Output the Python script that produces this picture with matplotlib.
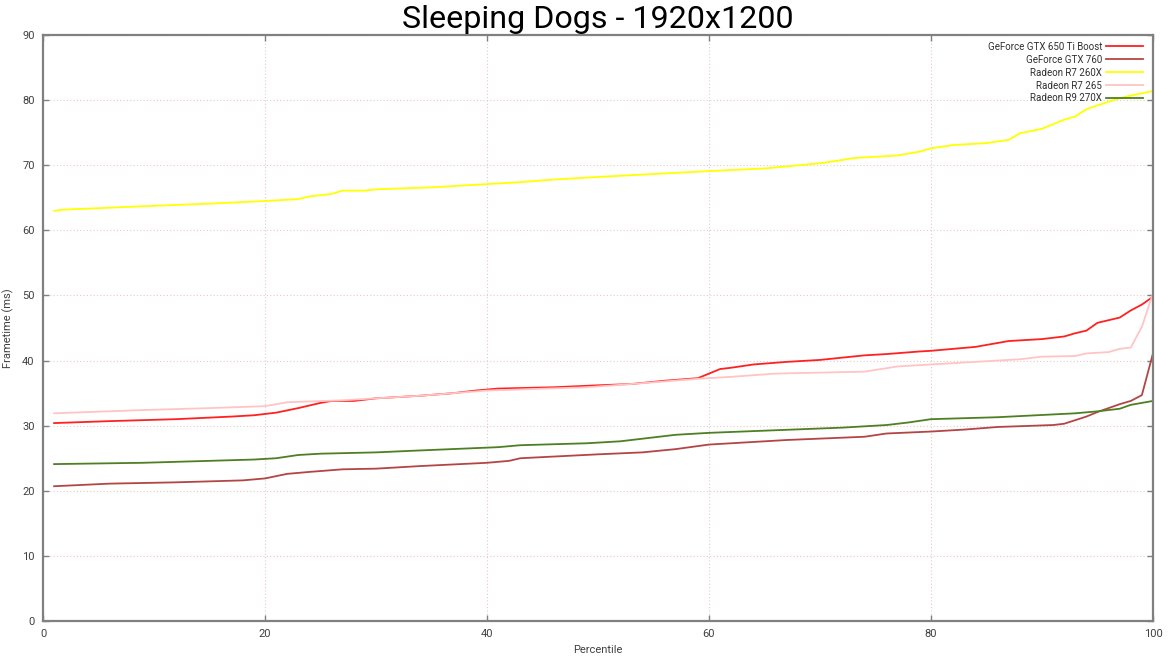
import matplotlib
matplotlib.use("Agg")
import matplotlib.pyplot as plt

# percentile / frametime samples
gtx650_x = [1, 6, 12, 17, 19, 21, 23, 25, 26, 28, 30, 34, 37, 39, 41, 46, 50, 53, 56, 59, 60, 61, 62, 64,
            67, 70, 74, 76, 79, 80, 82, 84, 86, 87, 90, 92, 93, 94, 95, 97, 98, 99, 100]
gtx650_y = [30.4, 30.7, 31.0, 31.4, 31.6, 32.0, 32.7, 33.5, 33.8, 33.8, 34.2, 34.6, 35.0, 35.4, 35.7, 35.9,
            36.2, 36.4, 36.9, 37.3, 38.0, 38.7, 38.9, 39.4, 39.8, 40.1, 40.8, 41.0, 41.4, 41.5, 41.8, 42.1,
            42.7, 43.0, 43.3, 43.7, 44.2, 44.6, 45.8, 46.6, 47.7, 48.6, 49.8]

gtx760_x = [1, 6, 12, 18, 20, 22, 24, 27, 30, 34, 40, 42, 43, 50, 54, 57, 60, 62, 67, 74, 76, 80, 83, 86,
            91, 92, 94, 95, 97, 98, 99, 100]
gtx760_y = [20.7, 21.1, 21.3, 21.6, 21.9, 22.6, 22.9, 23.3, 23.4, 23.8, 24.3, 24.6, 25.0, 25.6, 25.9, 26.4,
            27.1, 27.3, 27.8, 28.3, 28.8, 29.1, 29.4, 29.8, 30.1, 30.3, 31.4, 32.1, 33.3, 33.8, 34.7, 41.1]

r7_260x_x = [1, 2, 5, 9, 15, 20, 23, 24, 26, 27, 29, 30, 35, 40, 43, 46, 50, 60, 65, 70, 72, 73, 77, 79,
             80, 82, 85, 87, 88, 90, 92, 93, 94, 95, 97, 98, 100]
r7_260x_y = [63.0, 63.2, 63.4, 63.7, 64.1, 64.5, 64.8, 65.2, 65.6, 66.1, 66.1, 66.3, 66.6, 67.1, 67.4, 67.8,
             68.2, 69.1, 69.5, 70.3, 70.8, 71.1, 71.5, 72.1, 72.6, 73.1, 73.4, 73.9, 74.9, 75.6, 77.0, 77.5,
             78.6, 79.2, 80.3, 80.7, 81.4]

r7_265_x = [1, 9, 15, 20, 22, 27, 30, 34, 40, 49, 53, 59, 62, 66, 74, 77, 80, 83, 88, 90, 93, 94, 96, 97,
            98, 99, 100]
r7_265_y = [31.9, 32.4, 32.7, 33.0, 33.6, 33.9, 34.2, 34.6, 35.4, 35.9, 36.4, 37.2, 37.5, 38.0, 38.3, 39.1,
            39.4, 39.7, 40.2, 40.6, 40.7, 41.1, 41.3, 41.8, 42.0, 45.2, 50.3]

r9_270x_x = [1, 9, 15, 19, 21, 23, 25, 30, 34, 41, 43, 49, 52, 55, 57, 60, 66, 72, 76, 78, 80, 86, 93, 95,
             97, 98, 100]
r9_270x_y = [24.1, 24.3, 24.6, 24.8, 25.0, 25.5, 25.7, 25.9, 26.2, 26.7, 27.0, 27.3, 27.6, 28.2, 28.6, 28.9,
             29.3, 29.7, 30.1, 30.5, 31.0, 31.3, 31.9, 32.2, 32.6, 33.2, 33.8]

series = [
  ("GeForce GTX 650 Ti Boost", gtx650_x, gtx650_y, "#ff2020"),
  ("GeForce GTX 760", gtx760_x, gtx760_y, "#b34545"),
  ("Radeon R7 260X", r7_260x_x, r7_260x_y, "#ffff00"),
  ("Radeon R7 265", r7_265_x, r7_265_y, "#ffc4c4"),
  ("Radeon R9 270X", r9_270x_x, r9_270x_y, "#4e7f22"),
]

plt.rcParams['font.family'] = ['Roboto', 'DejaVu Sans']

fig = plt.figure(figsize=(11.69, 6.58), dpi=100)
ax = fig.add_axes([0.0368, 0.0562, 0.9495, 0.8906])

for name, xs, ys, col in series:
  ax.plot(xs, ys, color=col, linewidth=1.3, label=name)

ax.set_xlim(0, 100)
ax.set_ylim(0, 90)
ax.set_xticks(range(0, 101, 20))
ax.set_yticks(range(0, 91, 10))
ax.grid(True, color="#e8c8c8", linestyle=(0, (1, 2)), linewidth=0.8)

for s in ax.spines.values():
  s.set_color("#808080")
  s.set_linewidth(1.6)
ax.tick_params(direction="in", top=True, right=True, length=4, width=1, color="#808080",
               labelsize=8, labelcolor="#404040", pad=6)

ax.set_xlabel("Percentile", fontsize=8, color="#404040", labelpad=4)
ax.set_ylabel("Frametime (ms)", fontsize=8, color="#404040", labelpad=6)
fig.text(0.511, 0.9574, "Sleeping Dogs - 1920x1200", ha="center", va="baseline", fontsize=23.2, color="#000000")

leg = ax.legend(loc="upper right", frameon=False, markerfirst=False, fontsize=7,
                handlelength=3.8, handletextpad=0.4, labelspacing=0.3,
                borderaxespad=0.3, bbox_to_anchor=(0.997, 1.0))
for t in leg.get_texts():
  t.set_color("#303030")

fig.savefig("out.png", dpi=100)
